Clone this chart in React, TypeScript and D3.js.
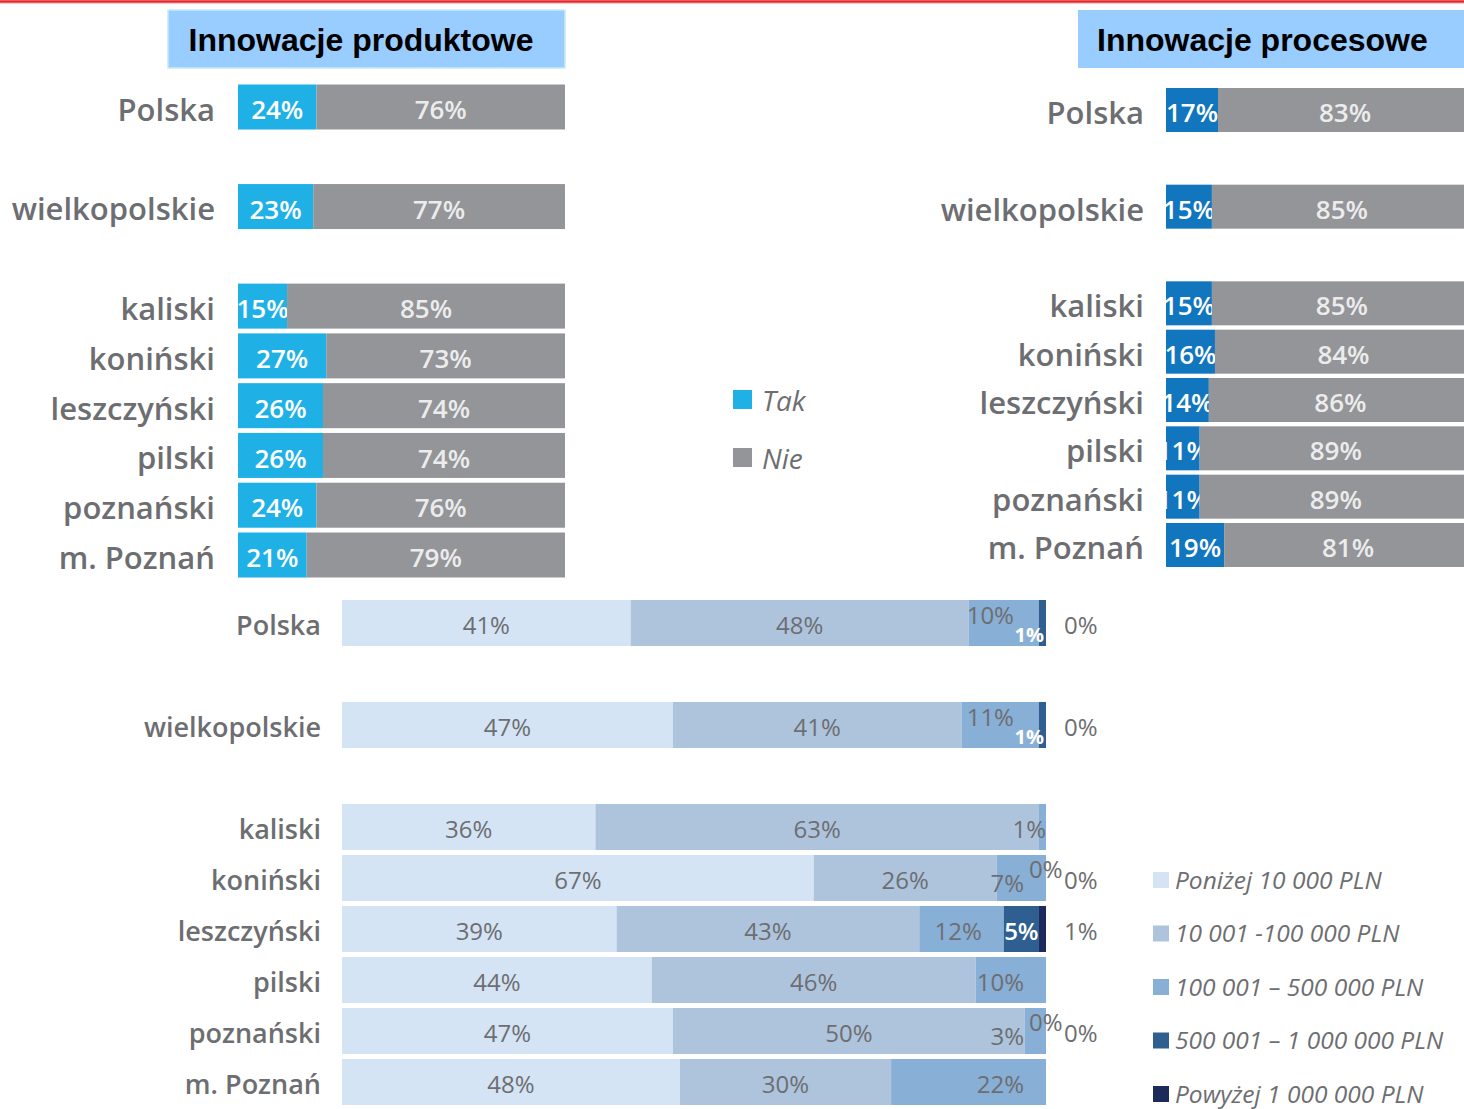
import * as d3 from "d3";

// regiony
const kategorie = ["Polska", "wielkopolskie", "kaliski", "koniński", "leszczyński", "pilski", "poznański", "m. Poznań"];

// innowacje produktowe (%)
const produktoweTak = [24, 23, 15, 27, 26, 26, 24, 21];
const produktoweNie = [76, 77, 85, 73, 74, 74, 76, 79];

// innowacje procesowe (%)
const procesoweTak = [17, 15, 15, 16, 14, 11, 11, 19];
const procesoweNie = [83, 85, 85, 84, 86, 89, 89, 81];

// nakłady (%), null = brak etykiety
const ponizej10k = [41, 47, 36, 67, 39, 44, 47, 48];
const od10kDo100k = [48, 41, 63, 26, 43, 46, 50, 30];
const od100kDo500k = [10, 11, 1, 7, 12, 10, 3, 22];
const od500kDo1m = [1, 1, null, 0, 5, null, 0, null];
const powyzej1m = [0, 0, null, 0, 1, null, 0, null];

const legendaKwoty = ["Poniżej 10 000 PLN", "10 001 -100 000 PLN", "100 001 – 500 000 PLN", "500 001 – 1 000 000 PLN", "Powyżej 1 000 000 PLN"];
const koloryKwoty = ["#d4e4f4", "#aec4dd", "#88afd6", "#2e5f90", "#1d2b5b"];

const FONT = "'Open Sans', sans-serif";
const GREY = "#6d6e71";

// Polska, gap, wielkopolskie, gap, then the subregions
const slot = (i: number) => (i === 0 ? 0 : i === 1 ? 2 : i + 2);

type TNProps = {
  tak: number[];
  nie: number[];
  x0: number;
  x1: number;
  yFirst: number;
  yLast: number;
  barH: number;
  labelX: number;
  takColor: string;
};

const TakNie = ({ tak, nie, x0, x1, yFirst, yLast, barH, labelX, takColor }: TNProps) => {
  const x = d3.scaleLinear().domain([0, 100]).range([x0, x1]);
  const y = d3.scaleLinear().domain([0, 9]).range([yFirst, yLast]);
  const rows = kategorie.map((c, i) => ({ cat: c, tak: tak[i], nie: nie[i] }));
  const series = d3.stack<any>().keys(["tak", "nie"])(rows);
  const colors = [takColor, "#939598"];
  const textColors = ["#ffffff", "#ececec"];

  return (
    <g>
      {rows.map((r, i) => (
        <text key={r.cat} x={labelX} y={y(slot(i)) + 3} dy="0.35em" textAnchor="end"
          fontFamily={FONT} fontWeight={600} fontSize={31} fill={GREY}>{r.cat}</text>
      ))}
      {series.map((s, k) => (
        <g key={s.key}>
          {s.map((d, i) => (
            <rect key={i} x={x(d[0])} y={y(slot(i)) - barH / 2} width={x(d[1]) - x(d[0])} height={barH}
              fill={colors[k]} />
          ))}
          {s.map((d, i) => (
            <text key={"t" + i} x={(x(d[0]) + x(d[1])) / 2} y={y(slot(i)) + 3} dy="0.35em" textAnchor="middle"
              fontFamily={FONT} fontWeight={600} fontSize={26} fill={textColors[k]}>{d[1] - d[0]}%</text>
          ))}
        </g>
      ))}
    </g>
  );
};

const Kwoty = () => {
  const x = d3.scaleLinear().domain([0, 100]).range([342, 1046]);
  const y = d3.scaleLinear().domain([0, 9]).range([623, 1082]);
  const barH = 46;
  const keys = ["s1", "s2", "s3", "s4", "s5"];
  const src = [ponizej10k, od10kDo100k, od100kDo500k, od500kDo1m, powyzej1m];
  const rows = kategorie.map((c, i) => {
    const o: any = { cat: c };
    keys.forEach((k, j) => (o[k] = src[j][i] ?? 0));
    return o;
  });
  const series = d3.stack<any>().keys(keys)(rows);
  const end = x(100);

  const label = (k: number, d: any, i: number) => {
    const v = src[k][i];
    if (v === null || v === undefined) return null;
    const cy = y(slot(i));
    const a = x(d[0]);
    const b = x(d[1]);
    let tx = (a + b) / 2;
    let ty = cy + 3;
    let anchor = "middle";
    let fill = "#6d6e71";
    let weight = 400;
    let size = 24;
    if (k === 0 || k === 1) {
      if (v === 0) return null;
    } else if (k === 2) {
      anchor = "end";
      tx = b - 22;
      if (src[3][i] === 1) {
        ty = cy - 7;
        tx = b - 25;
      }
      if (src[3][i] === 0) ty = cy + 6;
      if (v === 1 && src[3][i] === null) tx = end;
    } else if (k === 3) {
      if (v === 0) {
        anchor = "start";
        tx = end - 17;
        ty = cy - 8;
      } else if (v === 1) {
        anchor = "end";
        tx = end - 2;
        ty = cy + 12;
        fill = "#ffffff";
        weight = 700;
        size = 20;
      } else {
        fill = "#ffffff";
        weight = 600;
      }
    } else {
      anchor = "start";
      tx = end + 18;
      ty = cy + 3;
    }
    return (
      <text key={"l" + k + "-" + i} x={tx} y={ty} dy="0.35em" textAnchor={anchor}
        fontFamily={FONT} fontWeight={weight} fontSize={size} fill={fill}>{v}%</text>
    );
  };

  return (
    <g>
      {rows.map((r, i) => (
        <text key={r.cat} x={321} y={y(slot(i)) + 3} dy="0.35em" textAnchor="end"
          fontFamily={FONT} fontWeight={600} fontSize={27} fill={GREY}>{r.cat}</text>
      ))}
      {series.map((s, k) => (
        <g key={s.key}>
          {s.map((d, i) => (
            <rect key={i} x={x(d[0])} y={y(slot(i)) - barH / 2} width={Math.max(0, x(d[1]) - x(d[0]))} height={barH}
              fill={koloryKwoty[k]} />
          ))}
        </g>
      ))}
      {series.map((s, k) => s.map((d, i) => label(k, d, i)))}
      {legendaKwoty.map((t, i) => {
        const ly = 880 + i * 53.5;
        return (
          <g key={t}>
            <rect x={1153} y={ly - 8} width={16} height={16} fill={koloryKwoty[i]} />
            <text x={1175} y={ly} dy="0.35em" fontFamily={FONT} fontStyle="italic" fontSize={24.5} fill={GREY}>{t}</text>
          </g>
        );
      })}
    </g>
  );
};

const App = () => {
  return (
    <svg width={1464} height={1109} style={{ position: "absolute", left: 0, top: 0, background: "#fff" }}>
      <line x1={0} x2={1464} y1={1.5} y2={1.5} stroke="#e3262a" strokeWidth={2.5} />
      <line x1={0} x2={1464} y1={3.5} y2={3.5} stroke="#f6c9c9" strokeWidth={1} />

      <rect x={168} y={10} width={397} height={58} fill="#99ccff" stroke="#c6ecf0" strokeWidth={1.5} />
      <text x={361} y={40} dy="0.35em" textAnchor="middle" fontFamily="'Liberation Sans', Arial, sans-serif"
        fontWeight={700} fontSize={32} fill="#000">Innowacje produktowe</text>
      <rect x={1078} y={10} width={390} height={58} fill="#99ccff" />
      <text x={1097} y={40} dy="0.35em" fontFamily="'Liberation Sans', Arial, sans-serif"
        fontWeight={700} fontSize={32} fill="#000">Innowacje procesowe</text>

      <TakNie tak={produktoweTak} nie={produktoweNie} x0={238} x1={565} yFirst={107} yLast={555}
        barH={45} labelX={215} takColor="#1fb1e6" />
      <TakNie tak={procesoweTak} nie={procesoweNie} x0={1166} x1={1472} yFirst={110} yLast={545}
        barH={44} labelX={1144} takColor="#1176be" />

      <rect x={733} y={390} width={19} height={19} fill="#1fb1e6" />
      <text x={762} y={401} dy="0.35em" fontFamily={FONT} fontStyle="italic" fontSize={28} fill={GREY}>Tak</text>
      <rect x={733} y={448} width={19} height={19} fill="#939598" />
      <text x={762} y={459} dy="0.35em" fontFamily={FONT} fontStyle="italic" fontSize={28} fill={GREY}>Nie</text>

      <Kwoty />
    </svg>
  );
};

export default App;
